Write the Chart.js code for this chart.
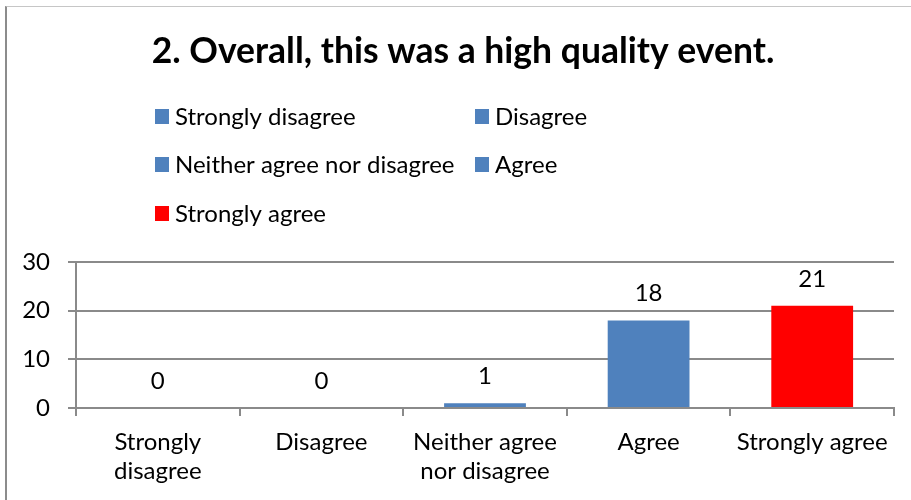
<!DOCTYPE html>
<html>
<head>
<meta charset="utf-8">
<script src="https://cdn.jsdelivr.net/npm/chart.js@4"></script>
<style>
  html, body { margin: 0; padding: 0; background: #fff; overflow: hidden; }
  #wrap { position: relative; width: 911px; height: 500px; }
  #frame { position: absolute; left: 5px; top: 6px; width: 1000px; height: 1000px;
           border-left: 2px solid #8c8c8c; border-top: 1px solid #c6c6c6; box-sizing: border-box; }
  canvas { position: absolute; left: 0; top: 0; }
</style>
</head>
<body>
<div id="wrap">
  <div id="frame"></div>
  <canvas id="c" width="911" height="500"></canvas>
</div>
<script>
const titleText = '2. Overall, this was a high quality event.';
const categories = ['Strongly disagree', 'Disagree', 'Neither agree nor disagree', 'Agree', 'Strongly agree'];
const axisLabels = [['Strongly', 'disagree'], ['Disagree'], ['Neither agree', 'nor disagree'], ['Agree'], ['Strongly agree']];
const counts = [0, 0, 1, 18, 21];
const barColors = ['#4F81BD', '#4F81BD', '#4F81BD', '#4F81BD', '#FF0000'];
const yTicks = [0, 10, 20, 30];

const FONT = 'Lato';
const GRID = '#8a8a8a';
const TXT = 24;

const headerPlugin = {
  id: 'header',
  afterDraw(chart) {
    const ctx = chart.ctx;
    ctx.save();
    // title
    ctx.font = 'bold 35.5px ' + FONT;
    ctx.fillStyle = '#000';
    ctx.textAlign = 'center';
    ctx.textBaseline = 'middle';
    ctx.fillText(titleText, 463, 52);
    // legend (two columns)
    const cols = [155, 475];
    const rows = [116, 164, 213];
    ctx.font = TXT + 'px ' + FONT;
    ctx.textAlign = 'left';
    categories.forEach((name, i) => {
      const x = cols[i % 2];
      const y = rows[Math.floor(i / 2)];
      ctx.fillStyle = barColors[i];
      ctx.fillRect(x, y - 7, 14, 15);
      ctx.fillStyle = '#000';
      ctx.fillText(name, x + 20, y + 1);
    });
    ctx.restore();
  }
};

const valueLabels = {
  id: 'valueLabels',
  afterDatasetsDraw(chart) {
    const ctx = chart.ctx;
    const meta = chart.getDatasetMeta(0);
    ctx.save();
    ctx.font = TXT + 'px ' + FONT;
    ctx.fillStyle = '#000';
    ctx.textAlign = 'center';
    ctx.textBaseline = 'middle';
    meta.data.forEach((bar, i) => {
      ctx.fillText(String(counts[i]), bar.x, bar.y - 27);
    });
    ctx.restore();
  }
};

new Chart(document.getElementById('c'), {
  type: 'bar',
  data: {
    labels: axisLabels,
    datasets: [{
      label: 'Responses',
      data: counts,
      backgroundColor: barColors,
      borderWidth: 0,
      categoryPercentage: 1,
      barPercentage: 0.5
    }]
  },
  options: {
    responsive: false,
    devicePixelRatio: 1,
    animation: false,
    layout: { padding: { left: 0, right: 17, top: 262, bottom: 0 } },
    plugins: {
      legend: { display: false },
      tooltip: { enabled: false },
      title: { display: false }
    },
    scales: {
      x: {
        afterFit(s) { s.height = 92; },
        grid: { display: true, drawOnChartArea: false, drawTicks: true, tickLength: 8, color: GRID, lineWidth: 2, offset: true },
        border: { display: true, color: GRID, width: 2 },
        ticks: {
          color: '#000', padding: 12, maxRotation: 0, autoSkip: false,
          font: { family: FONT, size: TXT, lineHeight: 1.21 }
        }
      },
      y: {
        min: 0, max: 30,
        afterFit(s) { s.width = 76; },
        afterBuildTicks(s) { s.ticks = yTicks.map(v => ({ value: v })); },
        grid: { color: GRID, lineWidth: 2, tickLength: 8, drawTicks: true },
        border: { display: true, color: GRID, width: 2 },
        ticks: {
          color: '#000', padding: 18,
          font: { family: FONT, size: TXT }
        }
      }
    }
  },
  plugins: [headerPlugin, valueLabels]
});
</script>
</body>
</html>
